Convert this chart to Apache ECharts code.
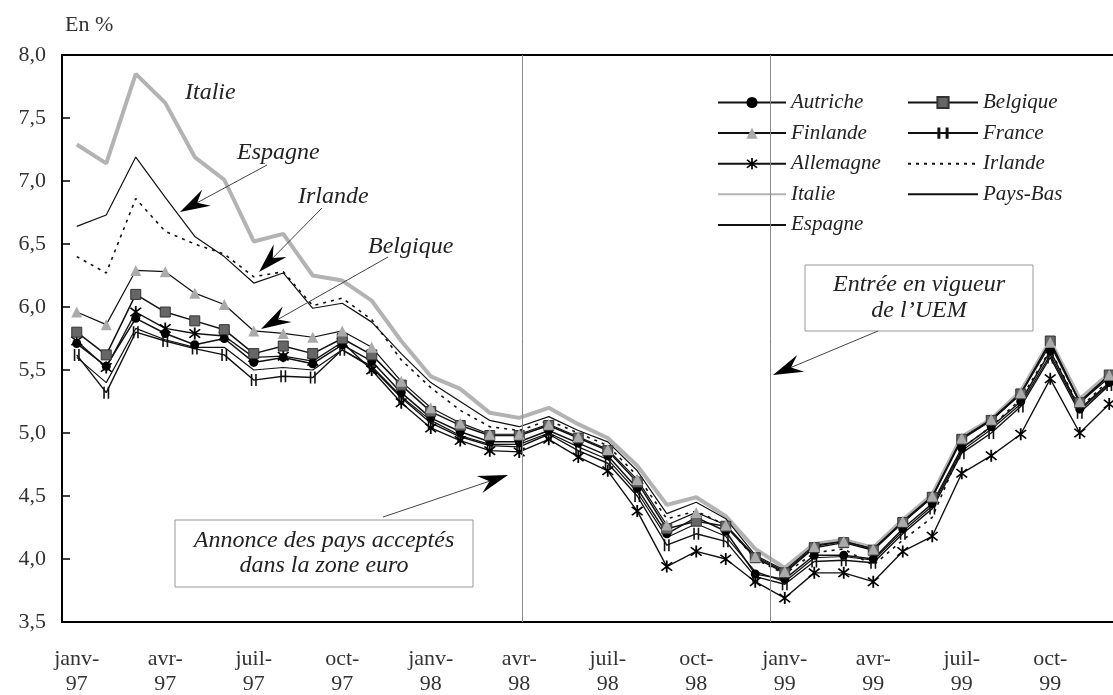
<!DOCTYPE html>
<html>
<head>
<meta charset="utf-8">
<script src="https://cdn.jsdelivr.net/npm/echarts@6/dist/echarts.min.js"></script>
<style>
  html, body { margin: 0; padding: 0; background: #fff; }
  #chart { width: 1113px; height: 695px; }
</style>
</head>
<body>
<div id="chart"></div>
<script>
// mois, janv-97 a dec-99
const months = [
  'janv-97', 'févr-97', 'mars-97', 'avr-97', 'mai-97', 'juin-97', 'juil-97', 'août-97', 'sept-97', 'oct-97', 'nov-97', 'déc-97',
  'janv-98', 'févr-98', 'mars-98', 'avr-98', 'mai-98', 'juin-98', 'juil-98', 'août-98', 'sept-98', 'oct-98', 'nov-98', 'déc-98',
  'janv-99', 'févr-99', 'mars-99', 'avr-99', 'mai-99', 'juin-99', 'juil-99', 'août-99', 'sept-99', 'oct-99', 'nov-99', 'déc-99'
]

// taux, en %
const autriche = [5.71, 5.53, 5.91, 5.79, 5.70, 5.75, 5.56, 5.60, 5.55, 5.70, 5.57, 5.32, 5.12, 5.01, 4.93, 4.93, 5.02, 4.92, 4.82, 4.56, 4.20, 4.33, 4.22, 3.88, 3.84, 4.03, 4.03, 4.00, 4.24, 4.44, 4.88, 5.05, 5.25, 5.65, 5.19, 5.40]
const belgique = [5.80, 5.62, 6.10, 5.96, 5.89, 5.82, 5.63, 5.69, 5.63, 5.75, 5.62, 5.38, 5.17, 5.06, 4.98, 4.98, 5.06, 4.96, 4.86, 4.61, 4.24, 4.30, 4.26, 4.01, 3.89, 4.09, 4.13, 4.07, 4.29, 4.49, 4.95, 5.10, 5.31, 5.73, 5.24, 5.46]
const finlande = [5.96, 5.86, 6.29, 6.28, 6.11, 6.02, 5.81, 5.79, 5.76, 5.81, 5.68, 5.41, 5.20, 5.08, 4.99, 4.99, 5.07, 4.97, 4.87, 4.63, 4.27, 4.37, 4.27, 4.02, 3.90, 4.10, 4.14, 4.08, 4.30, 4.50, 4.96, 5.11, 5.32, 5.72, 5.25, 5.46]
const france = [5.62, 5.32, 5.80, 5.73, 5.67, 5.62, 5.42, 5.45, 5.44, 5.66, 5.52, 5.28, 5.08, 4.97, 4.90, 4.89, 4.99, 4.86, 4.76, 4.50, 4.11, 4.20, 4.14, 3.86, 3.80, 3.98, 3.99, 3.97, 4.20, 4.40, 4.84, 5.00, 5.21, 5.60, 5.16, 5.38]
const allemagne = [5.73, 5.52, 5.96, 5.83, 5.79, 5.77, 5.60, 5.61, 5.57, 5.72, 5.50, 5.24, 5.04, 4.94, 4.86, 4.85, 4.95, 4.81, 4.70, 4.38, 3.94, 4.06, 4.00, 3.82, 3.69, 3.89, 3.89, 3.82, 4.06, 4.18, 4.68, 4.82, 4.99, 5.43, 5.00, 5.23]
const irlande = [6.40, 6.27, 6.86, 6.60, 6.50, 6.42, 6.24, 6.28, 6.01, 6.07, 5.90, 5.58, 5.36, 5.18, 5.05, 5.02, 5.10, 5.00, 4.90, 4.66, 4.32, 4.38, 4.27, 4.00, 3.88, 4.05, 4.08, 3.95, 4.15, 4.33, 4.88, 5.05, 5.27, 5.66, 5.20, 5.42]
const italie = [7.29, 7.14, 7.85, 7.62, 7.19, 7.01, 6.52, 6.58, 6.25, 6.21, 6.05, 5.73, 5.45, 5.35, 5.16, 5.12, 5.20, 5.07, 4.96, 4.74, 4.43, 4.49, 4.34, 4.08, 3.93, 4.12, 4.15, 4.09, 4.31, 4.51, 4.97, 5.11, 5.33, 5.73, 5.27, 5.47]
const paysBas = [5.60, 5.40, 5.83, 5.74, 5.68, 5.68, 5.50, 5.52, 5.50, 5.66, 5.53, 5.29, 5.10, 4.98, 4.91, 4.91, 5.00, 4.89, 4.79, 4.53, 4.17, 4.28, 4.18, 3.90, 3.82, 4.01, 4.02, 3.99, 4.22, 4.42, 4.86, 5.03, 5.23, 5.62, 5.18, 5.39]
const espagne = [6.64, 6.73, 7.19, 6.87, 6.56, 6.40, 6.19, 6.27, 5.99, 6.03, 5.88, 5.63, 5.40, 5.25, 5.10, 5.05, 5.13, 5.02, 4.93, 4.70, 4.36, 4.45, 4.32, 4.03, 3.91, 4.11, 4.14, 4.08, 4.29, 4.49, 4.96, 5.10, 5.31, 5.70, 5.24, 5.44]

// traits verticaux (annonce, entree en vigueur) sur un axe continu des mois
const eventPositions = [15.6, 24]

const serif = '"Liberation Serif", "DejaVu Serif", serif'

// marqueurs
const asterisk = 'path://M8.8,0 L11.2,0 L11.2,20 L8.8,20 Z M2.08,3.78 L3.78,2.08 L17.92,16.22 L16.22,17.92 Z M3.78,17.92 L2.08,16.22 L16.22,2.08 L17.92,3.78 Z'
const bars = 'path://M0,0 L1.6,0 L1.6,12 L0,12 Z M4.4,0 L6,0 L6,12 L4.4,12 Z'

function arrow(x1, y1, x2, y2) {
  const dx = x2 - x1
  const dy = y2 - y1
  const len = Math.sqrt(dx * dx + dy * dy)
  const ux = dx / len, uy = dy / len
  const nx = -uy, ny = ux
  const L = 30, W = 9
  const bx = x2 - ux * L, by = y2 - uy * L
  const mx = x2 - ux * L * 0.65, my = y2 - uy * L * 0.65
  return [
    { type: 'line', z: 50, shape: { x1: x1, y1: y1, x2: mx, y2: my }, style: { stroke: '#444', lineWidth: 1 } },
    { type: 'polygon', z: 50, shape: { points: [[x2, y2], [bx + nx * W, by + ny * W], [mx, my], [bx - nx * W, by - ny * W]] }, style: { fill: '#000' } }
  ]
}

function label(text, x, y) {
  return {
    type: 'text', z: 50, x: x, y: y,
    style: { text: text, font: 'italic 24px ' + serif, fill: '#222', textVerticalAlign: 'middle' }
  }
}

function box(x, y, w, h, text, lh) {
  return [
    { type: 'rect', z: 49, shape: { x: x, y: y, width: w, height: h }, style: { fill: '#fff', stroke: '#999', lineWidth: 1 } },
    {
      type: 'text', z: 50, x: x + w / 2, y: y + h / 2,
      style: { text: text, font: 'italic 24px ' + serif, lineHeight: lh, fill: '#222', textAlign: 'center', textVerticalAlign: 'middle' }
    }
  ]
}

function line(name, data, color, width, extra) {
  return Object.assign({
    name: name,
    type: 'line',
    data: data,
    symbol: 'none',
    animation: false,
    lineStyle: { color: color, width: width },
    itemStyle: { color: color }
  }, extra || {})
}

// pas de marqueur dans la legende pour les series sans symbole
const plain = name => ({ name: name, itemStyle: { opacity: 0 } })

const legendText = { fontFamily: serif, fontStyle: 'italic', fontSize: 21, color: '#222' }

const chart = echarts.init(document.getElementById('chart'))

chart.setOption({
  backgroundColor: '#fff',
  animation: false,
  grid: {
    left: 62,
    top: 55,
    width: 1062,
    height: 567,
    outerBoundsMode: 'none',
    show: true,
    borderColor: '#000',
    borderWidth: 2
  },
  legend: [{
    orient: 'vertical',
    left: 717,
    top: 92,
    padding: 0,
    itemWidth: 68,
    itemHeight: 14,
    itemGap: 9.6,
    textStyle: legendText,
    data: ['Autriche', 'Finlande', 'Allemagne', plain('Italie'), plain('Espagne')]
  }, {
    orient: 'vertical',
    left: 907,
    top: 92,
    padding: 0,
    itemWidth: 70,
    itemHeight: 14,
    itemGap: 9.6,
    textStyle: legendText,
    data: ['Belgique', 'France', plain('Irlande'), plain('Pays-Bas')]
  }],
  xAxis: [{
    type: 'category',
    data: months,
    boundaryGap: true,
    axisLine: { lineStyle: { color: '#000', width: 2 } },
    axisTick: { inside: true, length: 8, interval: 2, lineStyle: { color: '#000', width: 1.5 } },
    axisLabel: {
      interval: 2,
      margin: 25,
      fontFamily: serif,
      fontSize: 22,
      lineHeight: 25,
      color: '#333',
      formatter: v => v.replace('-', '-\n')
    },
    splitLine: { show: false }
  }, {
    type: 'value',
    min: 0,
    max: 36,
    show: false
  }],
  yAxis: {
    type: 'value',
    min: 3.5,
    max: 8,
    interval: 0.5,
    axisLine: { show: true, lineStyle: { color: '#000', width: 2 } },
    axisTick: { show: true, inside: true, length: 8, lineStyle: { color: '#000', width: 1.5 } },
    axisLabel: {
      margin: 16,
      fontFamily: serif,
      fontSize: 22,
      color: '#333',
      formatter: v => v.toFixed(1).replace('.', ',')
    },
    splitLine: { show: false }
  },
  series: [
    {
      // traits verticaux
      type: 'line',
      xAxisIndex: 1,
      data: [],
      silent: true,
      markLine: {
        silent: true,
        symbol: 'none',
        label: { show: false },
        lineStyle: { color: '#888', width: 1, type: 'solid' },
        data: eventPositions.map(p => ({ xAxis: p }))
      }
    },
    line('Italie', italie, '#b3b3b3', 4),
    line('Espagne', espagne, '#111', 1.2),
    line('Irlande', irlande, '#111', 1.6, { lineStyle: { color: '#111', width: 1.6, type: [3, 5] } }),
    line('Pays-Bas', paysBas, '#111', 1.2),
    line('France', france, '#111', 1.4, { symbol: bars, symbolSize: [6, 12], itemStyle: { color: '#111' } }),
    line('Autriche', autriche, '#111', 1.5, { symbol: 'circle', symbolSize: 9, itemStyle: { color: '#000' } }),
    line('Allemagne', allemagne, '#111', 1.4, { symbol: asterisk, symbolSize: 12, itemStyle: { color: '#000' } }),
    line('Belgique', belgique, '#111', 1.5, { symbol: 'rect', symbolSize: 10, itemStyle: { color: '#666', borderColor: '#333', borderWidth: 1 } }),
    line('Finlande', finlande, '#111', 1.2, { symbol: 'triangle', symbolSize: 11, itemStyle: { color: '#aaa' } })
  ],
  graphic: [
    { type: 'text', x: 65, y: 25, style: { text: 'En %', font: '22px ' + serif, fill: '#333', textVerticalAlign: 'middle' } },
    label('Italie', 185, 93),
    label('Espagne', 237, 153),
    label('Irlande', 298, 197),
    label('Belgique', 368, 247),
    ...arrow(267, 165, 180, 212),
    ...arrow(322, 208, 259, 272),
    ...arrow(388, 257, 261, 329),
    ...box(175, 520, 298, 67, 'Annonce des pays acceptés\ndans la zone euro', 25),
    ...arrow(383, 517, 508, 475),
    ...box(805, 265, 228, 66, 'Entrée en vigueur\nde l’UEM', 26),
    ...arrow(878, 331, 773, 375)
  ]
})
</script>
</body>
</html>
